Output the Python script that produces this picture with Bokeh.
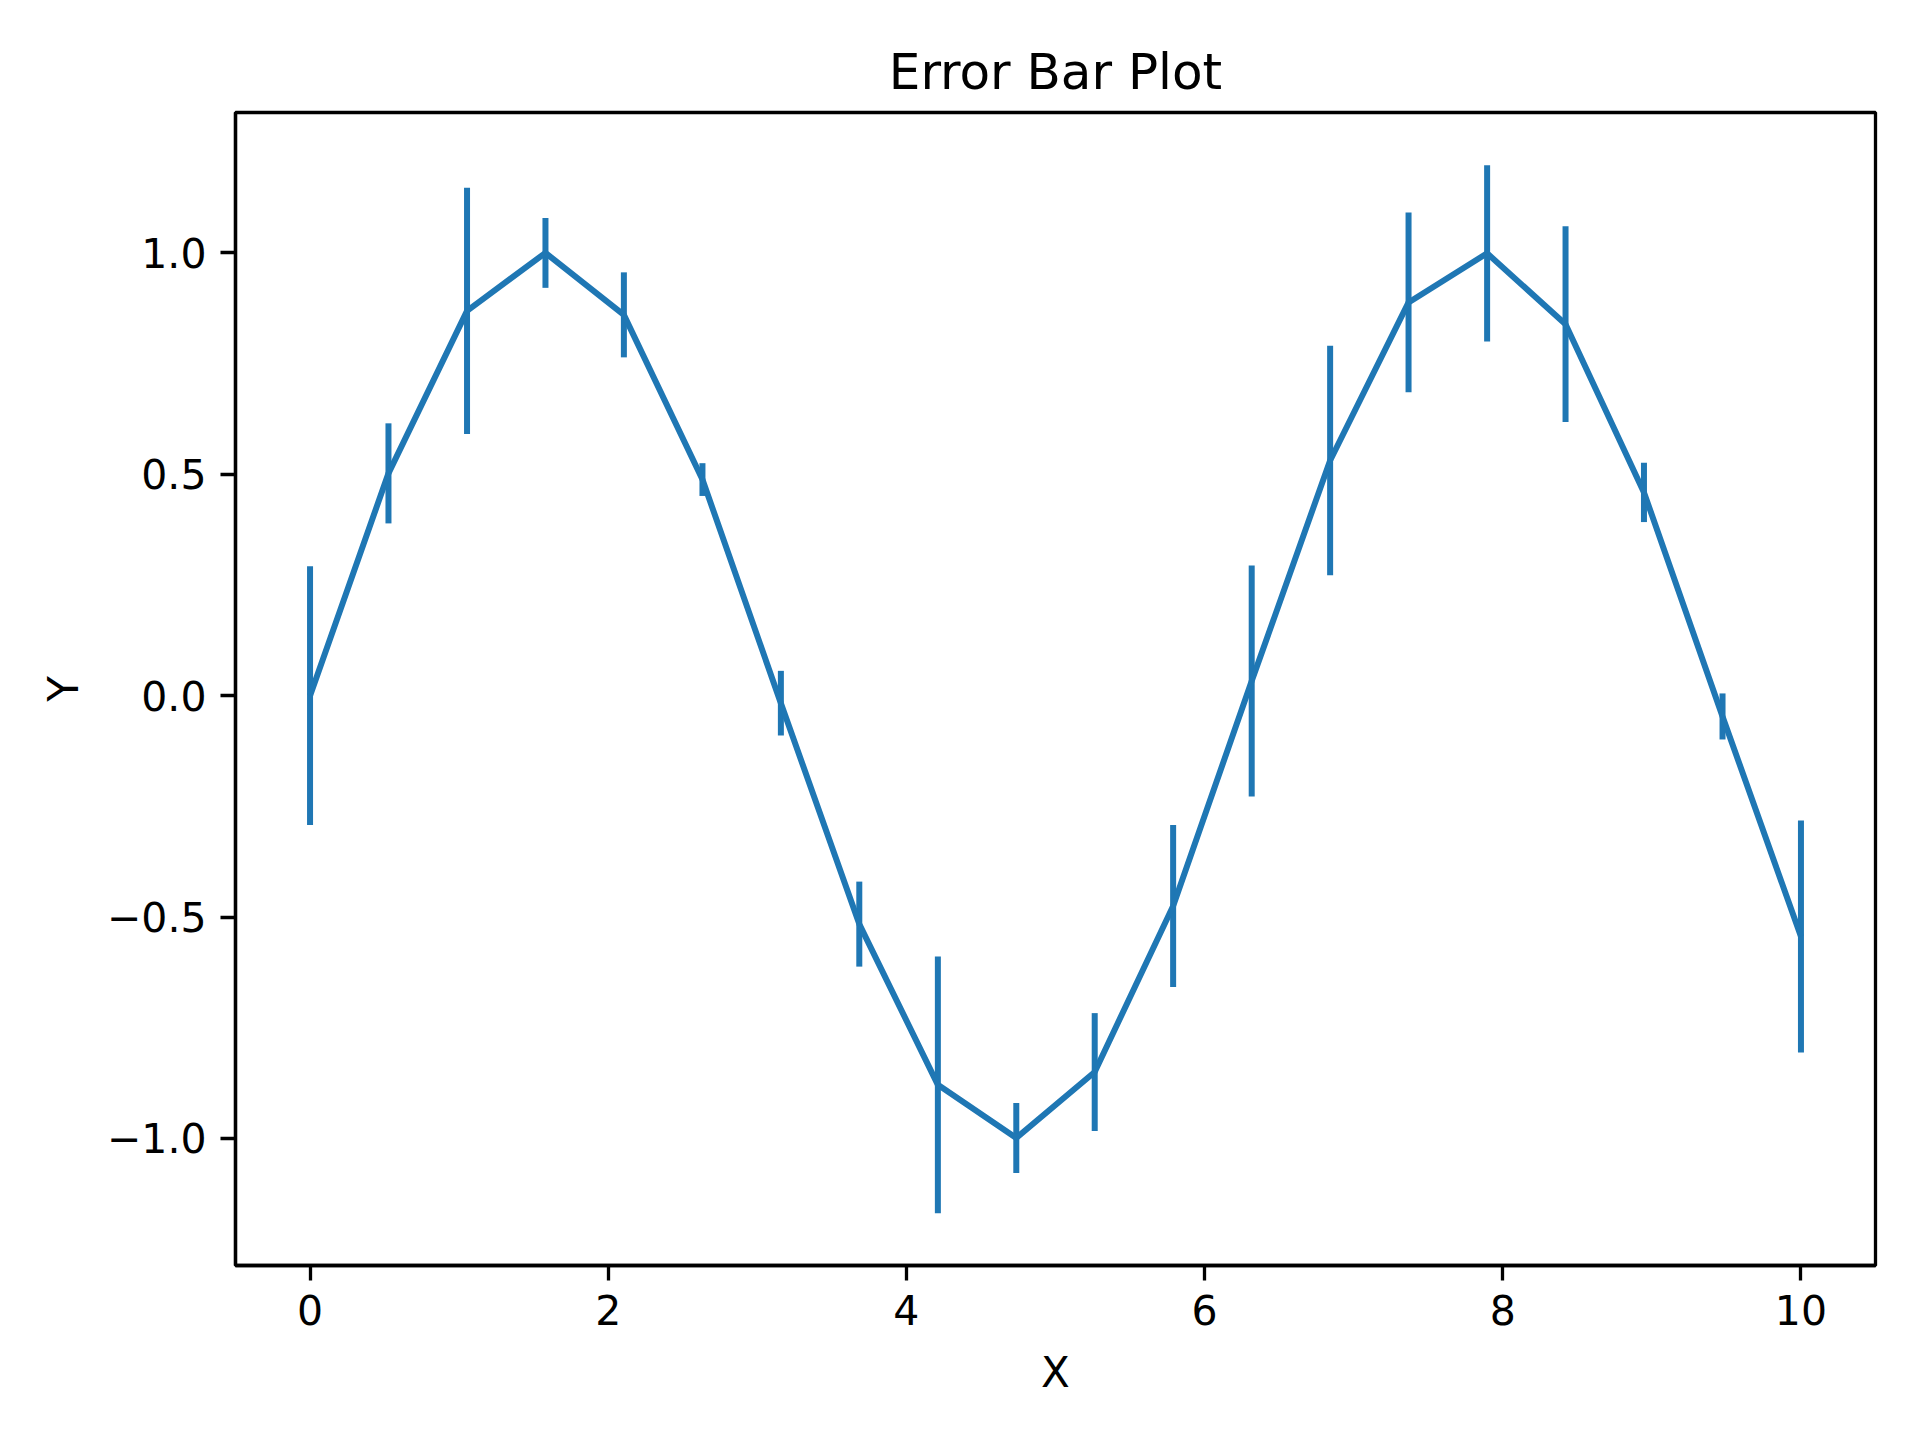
from bokeh.plotting import figure
from bokeh.models import FixedTicker, CustomJSTickFormatter, Range1d
from bokeh.embed import file_html
from bokeh.resources import INLINE

# valores
x_vals = [0.0, 0.526, 1.053, 1.579, 2.105, 2.632, 3.158, 3.684, 4.211, 4.737,
          5.263, 5.789, 6.316, 6.842, 7.368, 7.895, 8.421, 8.947, 9.474, 10.0]
y_vals = [0.0, 0.502, 0.869, 1.0, 0.860, 0.488, -0.017, -0.516, -0.879, -0.999,
          -0.850, -0.475, 0.033, 0.531, 0.888, 0.999, 0.839, 0.459, -0.047, -0.544]
y_err = [0.292, 0.113, 0.278, 0.079, 0.096, 0.037, 0.073, 0.096, 0.290, 0.079,
         0.133, 0.183, 0.261, 0.259, 0.203, 0.199, 0.221, 0.067, 0.052, 0.262]

x_ticks = [0, 2, 4, 6, 8, 10]
y_ticks = [-1.0, -0.5, 0.0, 0.5, 1.0]

azul = "#1f77b4"
fuente = "DejaVu Sans"

p = figure(width=1904, height=1424, output_backend="svg", toolbar_location=None,
           title="Error Bar Plot", x_axis_label="X", y_axis_label="Y",
           x_range=Range1d(-0.5, 10.5), y_range=Range1d(-1.287, 1.317),
           min_border_left=235, min_border_right=29,
           min_border_top=112, min_border_bottom=159)

# barras de error y linea
y_low = [y - e for y, e in zip(y_vals, y_err)]
y_high = [y + e for y, e in zip(y_vals, y_err)]
p.segment(x0=x_vals, y0=y_low, x1=x_vals, y1=y_high, line_color=azul, line_width=6)
p.line(x_vals, y_vals, line_color=azul, line_width=6)

p.title.align = "center"
p.title.text_font = fuente
p.title.text_font_size = "50px"
p.title.text_font_style = "normal"
p.title.text_color = "black"
p.title.standoff = 24

p.xgrid.visible = False
p.ygrid.visible = False
p.outline_line_color = "black"
p.outline_line_width = 3.3
p.outline_line_alpha = 1.0

p.xaxis.ticker = FixedTicker(ticks=x_ticks)
p.yaxis.ticker = FixedTicker(ticks=y_ticks)
p.yaxis.formatter = CustomJSTickFormatter(code="return tick.toFixed(1).replace('-', '\u2212');")

for ax in (p.xaxis, p.yaxis):
    ax.axis_line_width = 3.3
    ax.major_tick_line_width = 3.3
    ax.major_tick_out = 15
    ax.major_tick_in = 0
    ax.minor_tick_line_color = None
    ax.major_label_text_font = fuente
    ax.major_label_text_font_size = "41px"
    ax.major_label_text_color = "black"
    ax.major_label_standoff = 14
    ax.axis_label_text_font = fuente
    ax.axis_label_text_font_size = "42px"
    ax.axis_label_text_font_style = "normal"
    ax.axis_label_text_color = "black"

p.xaxis.axis_label_standoff = 20
p.yaxis.axis_label_standoff = 16

open("out.html", "w").write(file_html(p, INLINE))
